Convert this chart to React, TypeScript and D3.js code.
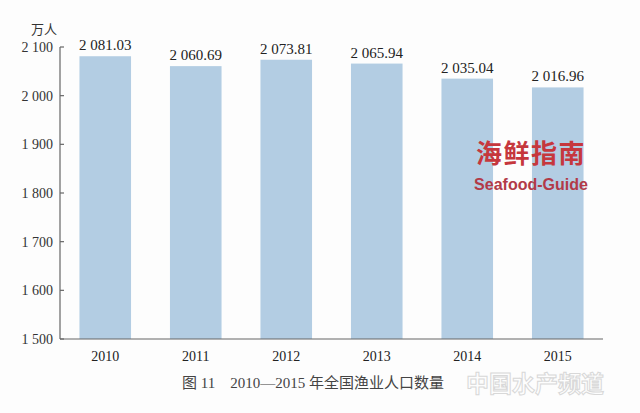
import React from "react";
import * as d3 from "d3";

const years = ["2010", "2011", "2012", "2013", "2014", "2015"];
const population = [2081.03, 2060.69, 2073.81, 2065.94, 2035.04, 2016.96];
const valueLabels = ["2 081.03", "2 060.69", "2 073.81", "2 065.94", "2 035.04", "2 016.96"];
const yTicks = [1500, 1600, 1700, 1800, 1900, 2000, 2100];
const yTickLabels = ["1 500", "1 600", "1 700", "1 800", "1 900", "2 000", "2 100"];

const W = 640, H = 413;
const left = 60, right = 603, top = 47, bottom = 339;

export default function App() {
  const x = d3.scaleBand<string>().domain(years).range([left, right]).paddingInner(0.43).paddingOuter(0.215);
  const y = d3.scaleLinear().domain([1500, 2100]).range([bottom, top]);
  const serif = "'Liberation Serif', 'DejaVu Serif', serif";
  const cjk = "'Noto Sans CJK SC', sans-serif";
  return (
    <svg width={W} height={H} style={{ position: "absolute", left: 0, top: 0, background: "#fff" }}>
      <rect width={W} height={H} fill="#fdfdfd" />
      {population.map((v, i) => (
        <rect key={years[i]} x={x(years[i])!} y={y(v)} width={x.bandwidth()} height={bottom - y(v)} fill="#b3cde3" />
      ))}
      <line x1={left} x2={left} y1={y(2100)} y2={bottom} stroke="#666" strokeWidth={1.2} />
      <line x1={left} x2={right} y1={bottom} y2={bottom} stroke="#666" strokeWidth={1.2} />
      {yTicks.map((t, i) => (
        <g key={t}>
          <line x1={left} x2={left + 4} y1={y(t)} y2={y(t)} stroke="#666" strokeWidth={1.2} />
          <text x={left - 7} y={y(t)} dy="0.35em" textAnchor="end" fontFamily={serif} fontSize={14} fill="#333">
            {yTickLabels[i]}
          </text>
        </g>
      ))}
      <text x={44} y={34} textAnchor="middle" fontFamily={cjk} fontSize={13} fill="#333">万人</text>
      {population.map((v, i) => (
        <text key={"v" + i} x={x(years[i])! + x.bandwidth() / 2} y={y(v) - 6} textAnchor="middle" fontFamily={serif} fontSize={15} fill="#222">
          {valueLabels[i]}
        </text>
      ))}
      {years.map((yr) => (
        <text key={"x" + yr} x={x(yr)! + x.bandwidth() / 2} y={361} textAnchor="middle" fontFamily={serif} fontSize={14} fill="#222">
          {yr}
        </text>
      ))}
      <text x={313} y={388} textAnchor="middle" fontFamily={serif} fontSize={15} fill="#444">
        <tspan fontFamily={cjk}>图</tspan> 11{"\u2003"}2010—2015 <tspan fontFamily={cjk}>年全国渔业人口数量</tspan>
      </text>
      <text x={531} y={163} textAnchor="middle" fontFamily={cjk} fontSize={26} fontWeight={700} fill="#c6373d" letterSpacing={1.5}>海鲜指南</text>
      <text x={531} y={190} textAnchor="middle" fontFamily="'Liberation Sans', Arial, sans-serif" fontSize={16} fontWeight={700} fill="#b23a48">Seafood-Guide</text>
      <text x={535} y={392} textAnchor="middle" fontFamily={cjk} fontSize={23} fontWeight={700} fill="none" stroke="#d8d8d8" strokeWidth={1}>中国水产频道</text>
    </svg>
  );
}
